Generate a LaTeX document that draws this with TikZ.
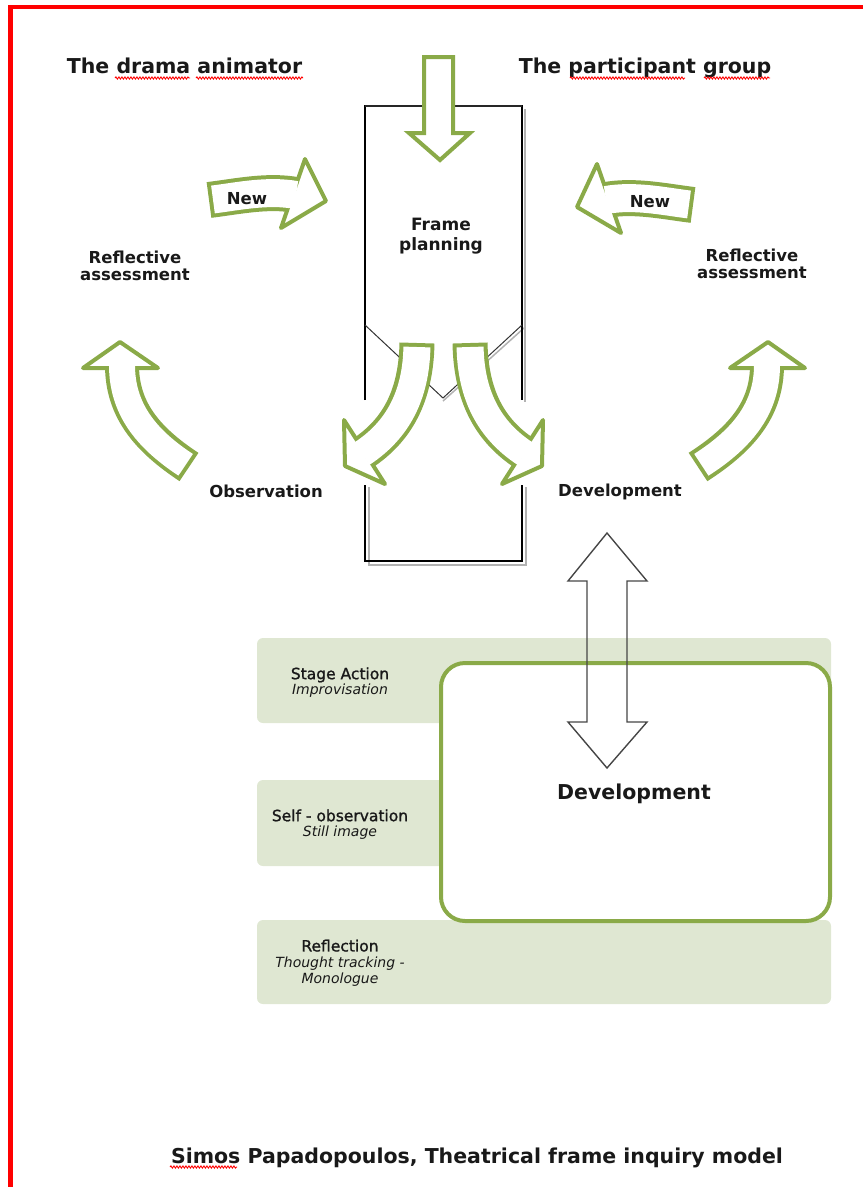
\documentclass[tikz,border=0pt]{standalone}
\usepackage{fontspec}
\setmainfont{DejaVu Sans}
\newfontfamily\semibold[FakeBold=1.2]{DejaVu Sans}
\usetikzlibrary{decorations.pathmorphing}
\definecolor{agreen}{RGB}{138,170,72}
\definecolor{bandgreen}{RGB}{223,231,210}
\definecolor{txt}{RGB}{25,25,25}
\definecolor{dgray}{RGB}{70,70,70}
\newcommand{\bentarrow}[9]{%
  \draw[agreen, line width=#8] #1 .. controls #2 and #3 .. #4;
  \filldraw[fill=white, draw=agreen, line width=4, line join=round] #5 -- #6 -- #7 -- cycle;
  \draw[white, line width=#9, shorten <=4] #1 .. controls #2 and #3 .. #4;
}
\begin{document}
\begin{tikzpicture}[x=1pt,y=-1pt,
  title/.style={font=\fontsize{20.5}{24}\selectfont\bfseries, text=txt, inner sep=0pt},
  lbl/.style={font=\fontsize{16.5}{17}\selectfont\bfseries, text=txt, inner sep=0pt, align=center},
  bandtxt/.style={font=\fontsize{15.5}{15.5}\selectfont\semibold, text=txt, inner sep=0pt, align=center},
  band/.style={fill=bandgreen, rounded corners=6},
  spell/.style={red, line width=0.9, decorate, decoration={snake, amplitude=1.1pt, segment length=3pt}},
  shadowline/.style={gray!60, line width=1.5},
  frameline/.style={black, line width=1.1}
]
\useasboundingbox (0,0) rectangle (863,1187);
% red margin lines
\fill[red] (8,5) rectangle (863,9);
\fill[red] (8,5) rectangle (12.5,1187);

% ---------- frame planning box ----------
\draw[shadowline] (525,109) -- (525,402);
\draw[shadowline] (443,401) -- (524,328);
\draw[frameline] (365,400) -- (365,106) -- (522,106) -- (522,400);
\draw[black!85, line width=2.2] (365,106) -- (522,106);
\draw[black!80, line width=1] (365,325) -- (443,398) -- (522,325);
% lower open frame
\draw[shadowline] (369,487) -- (369,565) -- (526,565) -- (526,487);
\draw[frameline] (365,485) -- (365,561) -- (522,561) -- (522,485);

% input arrow
\filldraw[fill=white, draw=agreen, line width=4, line join=miter]
  (424,57) -- (453,57) -- (453,133) -- (470,133) -- (440,160) -- (409,133) -- (424,133) -- cycle;

% arrows out of frame planning
\bentarrow{(417,343)}{(416,395)}{(398,430)}{(362,453.6)}{(344,420)}{(345,466)}{(385,484)}{35}{27}
\bentarrow{(470,343)}{(471,395)}{(489,430)}{(525,453.6)}{(543,420)}{(542,466)}{(502,484)}{35}{27}

% "New" arrows
\bentarrow{(209,200)}{(240,196)}{(268,190)}{(296,195)}{(305,159)}{(326,201)}{(281,228)}{36}{28}
\bentarrow{(693,205)}{(662,201)}{(634,195)}{(606,200)}{(597,164)}{(577,207)}{(621,233)}{36}{28}

% cycle arrows
\bentarrow{(189,467)}{(145,438)}{(122,408)}{(122,365)}{(83,368)}{(120,342)}{(158,368)}{34}{26}
\bentarrow{(698,467)}{(743,438)}{(767,408)}{(767,365)}{(730,368)}{(768,342)}{(805,368)}{34}{26}

% ---------- labels ----------
\node[title, anchor=base] (animator) at (184.5,73) {The drama animator};
\node[title, anchor=base] (group) at (645,73) {The participant group};
\draw[spell] (115,78) -- (190,78);
\draw[spell] (196,78) -- (303,78);
\draw[spell] (570,78) -- (685,78);
\draw[spell] (704,78) -- (770,78);

\node[lbl, font=\fontsize{17}{20}\selectfont\bfseries] (frame) at (441,236) {Frame\\planning};
\node[lbl, anchor=base] (newL) at (247,204) {New};
\node[lbl, anchor=base] (newR) at (650,207) {New};
\node[lbl] (raL) at (135,265.5) {Reflective\\assessment};
\node[lbl] (raR) at (752,263.5) {Reflective\\assessment};
\node[lbl, anchor=base] (obs) at (266,497) {Observation};
\node[lbl, anchor=base] (devS) at (620,496) {Development};

% ---------- lower panel ----------
\fill[band] (257,638) rectangle (831,723);
\fill[band] (257,780) rectangle (831,866);
\fill[band] (257,920) rectangle (831,1004);
\draw[agreen, line width=4, fill=white, rounded corners=24] (441,663) rectangle (830,921);

\node[bandtxt] (stage) at (340,682.5) {Stage Action\\{\fontsize{14}{15}\selectfont\normalfont\itshape Improvisation}};
\node[bandtxt] (self) at (340,824.5) {Self - observation\\{\fontsize{14}{15}\selectfont\normalfont\itshape Still image}};
\node[bandtxt, font=\fontsize{15.5}{16}\selectfont\semibold] (refl) at (340,963) {Reflection\\{\fontsize{14}{16}\selectfont\normalfont\itshape Thought tracking -}\\{\fontsize{14}{16}\selectfont\normalfont\itshape Monologue}};

\node[title, anchor=base] (devB) at (634,799) {Development};

% double arrow
\draw[dgray, line width=1.4, line join=miter]
  (607,533) -- (647,581) -- (627,581) -- (627,722) -- (647,722) -- (607,768)
  -- (568,722) -- (587,722) -- (587,581) -- (568,581) -- cycle;

% footer
\node[title, anchor=base] (footer) at (477,1163) {Simos Papadopoulos, Theatrical frame inquiry model};
\draw[spell] (170,1167) -- (237,1167);
\end{tikzpicture}
\end{document}
